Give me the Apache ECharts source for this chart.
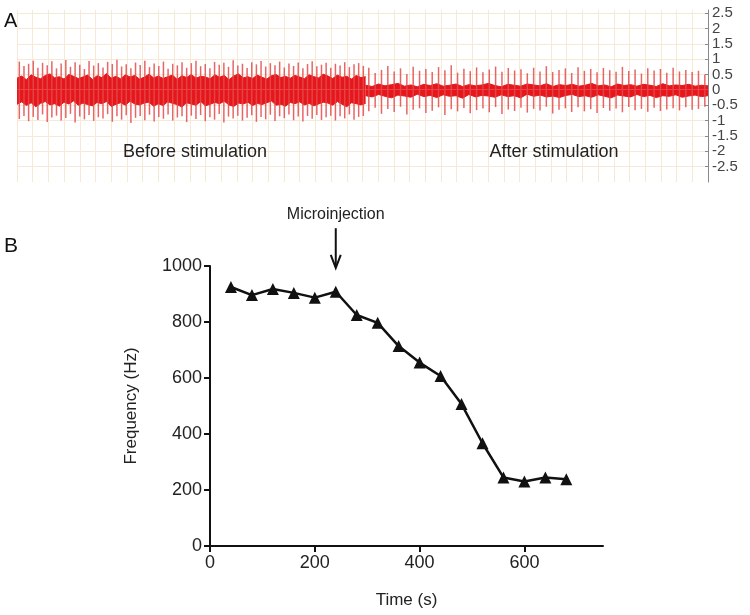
<!DOCTYPE html>
<html>
<head>
<meta charset="utf-8">
<script src="https://cdn.jsdelivr.net/npm/echarts@6/dist/echarts.min.js"></script>
<style>
html,body{margin:0;padding:0;background:#fff;}
#chart{width:750px;height:615px;}
</style>
</head>
<body>
<div id="chart"></div>
<script>
// ---------- Panel A: recorded trace (estimated spike peaks / troughs and noise-core extent) ----------
var beforePeaks = [0.92,0.78,0.85,0.95,0.72,0.88,0.80,0.93,0.70,0.86,0.97,0.75,0.90,0.82,0.68,0.94,0.79,0.87,0.73,0.91,0.84,0.98,0.76,0.83,0.70,0.89,0.81,0.95,0.74,0.86,0.78,0.92,0.69,0.85,0.80,0.90,0.72,0.87,0.95,0.77,0.84,0.70,0.91,0.82,0.88,0.75,0.96,0.79,0.85,0.71,0.90,0.83,0.94,0.76,0.87,0.80,0.92,0.73,0.86,0.78,0.89,0.70,0.84,0.93,0.77,0.82,0.88,0.72,0.85,0.79,0.90,0.74,0.83,0.87,0.78];
var beforeTroughs = [-0.95,-0.85,-1.02,-0.88,-0.98,-0.80,-1.05,-0.90,-0.84,-1.00,-0.92,-0.78,-1.06,-0.87,-0.96,-0.82,-1.01,-0.89,-0.93,-0.79,-1.04,-0.86,-0.97,-0.83,-1.08,-0.91,-0.85,-0.99,-0.81,-1.03,-0.88,-0.94,-0.80,-1.00,-0.90,-0.86,-1.05,-0.84,-0.95,-0.82,-1.02,-0.89,-0.97,-0.79,-1.06,-0.87,-0.93,-0.84,-1.00,-0.91,-0.83,-1.04,-0.88,-0.96,-0.81,-1.01,-0.86,-0.92,-0.80,-0.99,-0.87,-1.03,-0.85,-0.94,-0.82,-0.98,-0.89,-0.84,-1.00,-0.86,-0.93,-0.80,-0.97,-0.88,-0.85];
var beforeCoreHi = [0.38,0.45,0.33,0.49,0.41,0.36,0.47,0.52,0.39,0.43,0.35,0.50,0.44,0.37,0.42,0.48,0.34,0.46,0.40,0.53,0.38,0.44,0.36,0.49,0.42,0.47,0.35,0.41,0.51,0.39,0.45,0.37,0.43,0.48,0.34,0.46,0.40,0.50,0.38,0.44,0.42,0.36,0.49,0.41,0.47,0.33,0.45,0.52,0.39,0.43,0.37,0.48,0.41,0.35,0.46,0.50,0.40,0.44,0.38,0.47,0.42,0.36,0.49,0.43,0.39,0.51,0.45,0.37,0.48,0.41,0.44,0.35,0.47,0.40,0.43];
var beforeCoreLo = [-0.47,-0.39,-0.51,-0.42,-0.55,-0.44,-0.38,-0.49,-0.45,-0.53,-0.40,-0.46,-0.36,-0.50,-0.43,-0.48,-0.52,-0.41,-0.45,-0.38,-0.54,-0.47,-0.42,-0.50,-0.37,-0.46,-0.49,-0.43,-0.40,-0.53,-0.45,-0.51,-0.39,-0.44,-0.48,-0.56,-0.42,-0.46,-0.50,-0.38,-0.52,-0.47,-0.41,-0.45,-0.37,-0.49,-0.54,-0.43,-0.46,-0.40,-0.51,-0.44,-0.48,-0.42,-0.36,-0.50,-0.47,-0.53,-0.41,-0.45,-0.39,-0.49,-0.44,-0.52,-0.46,-0.40,-0.43,-0.50,-0.38,-0.47,-0.55,-0.42,-0.45,-0.49,-0.44];

var afterPeaks = [0.72,0.55,0.65,0.78,0.60,0.70,0.52,0.75,0.62,0.68,0.58,0.74,0.64,0.80,0.56,0.69,0.61,0.73,0.57,0.66,0.76,0.59,0.71,0.63,0.67,0.54,0.72,0.60,0.77,0.58,0.65,0.70,0.55,0.74,0.62,0.68,0.57,0.71,0.64,0.59,0.75,0.61,0.66,0.53,0.70,0.63,0.68,0.56,0.72,0.60,0.65,0.58,0.62,0.50];
var afterTroughs = [-0.70,-0.58,-0.78,-0.62,-0.72,-0.55,-0.80,-0.65,-0.60,-0.75,-0.68,-0.57,-0.82,-0.63,-0.70,-0.59,-0.76,-0.66,-0.61,-0.73,-0.56,-0.79,-0.64,-0.69,-0.58,-0.74,-0.62,-0.67,-0.55,-0.77,-0.65,-0.60,-0.72,-0.57,-0.70,-0.63,-0.75,-0.59,-0.68,-0.61,-0.73,-0.56,-0.66,-0.62,-0.71,-0.58,-0.69,-0.64,-0.60,-0.67,-0.57,-0.65,-0.62,-0.55];
var afterCoreHi = [0.15,0.11,0.19,0.13,0.17,0.21,0.12,0.16,0.10,0.18,0.14,0.20,0.12,0.15,0.19,0.11,0.17,0.13,0.16,0.21,0.14,0.10,0.18,0.15,0.12,0.19,0.16,0.13,0.20,0.11,0.17,0.14,0.18,0.12,0.15,0.21,0.13,0.16,0.10,0.19,0.14,0.17,0.12,0.18,0.15,0.11,0.20,0.13,0.16,0.14,0.18,0.12,0.15,0.13];
var afterCoreLo = [-0.19,-0.23,-0.15,-0.21,-0.26,-0.17,-0.20,-0.24,-0.14,-0.22,-0.18,-0.25,-0.16,-0.21,-0.19,-0.27,-0.15,-0.23,-0.18,-0.20,-0.24,-0.16,-0.22,-0.19,-0.26,-0.14,-0.21,-0.17,-0.23,-0.20,-0.25,-0.18,-0.15,-0.22,-0.19,-0.24,-0.16,-0.21,-0.26,-0.17,-0.20,-0.23,-0.15,-0.22,-0.18,-0.25,-0.19,-0.21,-0.16,-0.24,-0.20,-0.17,-0.22,-0.19];

// time span of each recording segment (arbitrary grid units)
var beforeSpan = [0, 22.2];
var afterSpan = [22.2, 44];
var traceTickLabels = [-2.5,-2,-1.5,-1,-0.5,0,0.5,1,1.5,2,2.5];

// ---------- Panel B: frequency over time ----------
var timeS = [40,80,120,160,200,240,280,320,360,400,440,480,520,560,600,640,680];
var freqHz = [925,896,918,904,887,908,825,797,714,655,607,507,367,245,230,245,238];
var timeTicks = [0,200,400,600];
var injectionTime = 240;

// ---------- build helpers ----------
function spikeXY(vals, span){
  var n = vals.length, w = (span[1]-span[0])/n;
  return vals.map(function(v,i){ return [span[0] + (i+0.5)*w, v]; });
}
function coreXY(vals, span){
  var n = vals.length, w = (span[1]-span[0])/(n-1);
  return vals.map(function(v,i){ return [span[0] + i*w, v]; });
}

var RED = '#e5161c';
var SPIKE = '#e44a4a';
var GRIDC = '#f6ead6';
var FONT = '"Liberation Sans", Arial, sans-serif';

function coreSeries(vals, span){
  return {
    type:'line', xAxisIndex:0, yAxisIndex:0, data: coreXY(vals, span),
    symbol:'none', silent:true, animation:false,
    lineStyle:{color:RED, width:1},
    areaStyle:{color:RED, opacity:1, origin:0},
    z:2
  };
}
function spikeSeries(vals, span){
  return {
    type:'bar', xAxisIndex:0, yAxisIndex:0, data: spikeXY(vals, span),
    barWidth:1.5, barGap:'-100%', silent:true, animation:false,
    itemStyle:{color:SPIKE, opacity:0.85},
    z:3
  };
}

var chart = echarts.init(document.getElementById('chart'), null, {renderer:'canvas'});

var option = {
  animation:false,
  backgroundColor:'#fff',
  grid:[
    {left:17, right:42, top:10, height:172},
    {left:210, top:266, width:393, height:280}
  ],
  xAxis:[
    {type:'value', gridIndex:0, min:0, max:44, interval:1,
     axisLine:{show:false}, axisTick:{show:false}, axisLabel:{show:false},
     splitLine:{show:true, lineStyle:{color:GRIDC, width:1}}},
    {type:'value', gridIndex:1, min:0, max:750,
     name:'Time (s)', nameLocation:'middle', nameGap:46,
     nameTextStyle:{fontFamily:FONT, fontSize:17, color:'#222'},
     axisLine:{show:true, onZero:false, lineStyle:{color:'#111', width:2}},
     axisTick:{show:true, length:6, lineStyle:{width:2, color:'#111'}, customValues:timeTicks},
     axisLabel:{fontFamily:FONT, fontSize:18, color:'#222', margin:8, customValues:timeTicks},
     splitLine:{show:false}}
  ],
  yAxis:[
    {type:'value', gridIndex:0, position:'right', min:-3, max:2.6, interval:0.5,
     axisLine:{show:true, onZero:false, lineStyle:{color:'#888', width:1}},
     axisTick:{show:true, inside:true, length:3, lineStyle:{color:'#888'}, customValues:traceTickLabels},
     axisLabel:{fontFamily:FONT, fontSize:15, color:'#444', margin:4, customValues:traceTickLabels,
       formatter:function(v){ return String(v); }},
     splitLine:{show:true, lineStyle:{color:GRIDC, width:1}}},
    {type:'value', gridIndex:1, min:0, max:1000, interval:200,
     name:'Frequency (Hz)', nameLocation:'middle', nameGap:70, nameRotate:90,
     nameTextStyle:{fontFamily:FONT, fontSize:17, color:'#222'},
     axisLine:{show:true, onZero:false, lineStyle:{color:'#111', width:2}},
     axisTick:{show:true, length:6, lineStyle:{width:2, color:'#111'}},
     axisLabel:{fontFamily:FONT, fontSize:18, color:'#222', margin:8,
       formatter:function(v){ return String(v); }},
     splitLine:{show:false}}
  ],
  series:[
    coreSeries(beforeCoreHi, beforeSpan),
    coreSeries(beforeCoreLo, beforeSpan),
    coreSeries(afterCoreHi, afterSpan),
    coreSeries(afterCoreLo, afterSpan),
    spikeSeries(beforePeaks, beforeSpan),
    spikeSeries(beforeTroughs, beforeSpan),
    spikeSeries(afterPeaks, afterSpan),
    spikeSeries(afterTroughs, afterSpan),
    {type:'line', xAxisIndex:1, yAxisIndex:1,
     data: timeS.map(function(t,i){ return [t, freqHz[i]]; }),
     symbol:'triangle', symbolSize:12, showSymbol:true,
     lineStyle:{color:'#111', width:2.5},
     itemStyle:{color:'#111'}, z:5}
  ]
};
chart.setOption(option);

// annotation graphics, positioned through the chart's own scales
var arrowTop = chart.convertToPixel({gridIndex:1}, [injectionTime, 1135]);
var arrowTip = chart.convertToPixel({gridIndex:1}, [injectionTime, 993]);
var ax = arrowTop[0];
chart.setOption({
  graphic:[
    {type:'text', left:4, top:11, style:{text:'A', fontFamily:FONT, fontSize:20, fill:'#111'}},
    {type:'text', left:4, top:236, style:{text:'B', fontFamily:FONT, fontSize:21, fill:'#111'}},
    {type:'text', x:195, y:152, style:{text:'Before stimulation', fontFamily:FONT, fontSize:18, fill:'#222', align:'center', verticalAlign:'middle'}, z:10},
    {type:'text', x:554, y:152, style:{text:'After stimulation', fontFamily:FONT, fontSize:18, fill:'#222', align:'center', verticalAlign:'middle'}, z:10},
    {type:'text', x:ax, y:arrowTop[1]-14, style:{text:'Microinjection', fontFamily:FONT, fontSize:16, fill:'#222', align:'center', verticalAlign:'middle'}},
    {type:'line', shape:{x1:ax, y1:arrowTop[1], x2:ax, y2:arrowTip[1]-1}, style:{stroke:'#111', lineWidth:2}},
    {type:'polyline', shape:{points:[[ax-5, arrowTip[1]-13],[ax, arrowTip[1]],[ax+5, arrowTip[1]-13]]}, style:{stroke:'#111', lineWidth:2, fill:null}}
  ]
});
</script>
</body>
</html>
